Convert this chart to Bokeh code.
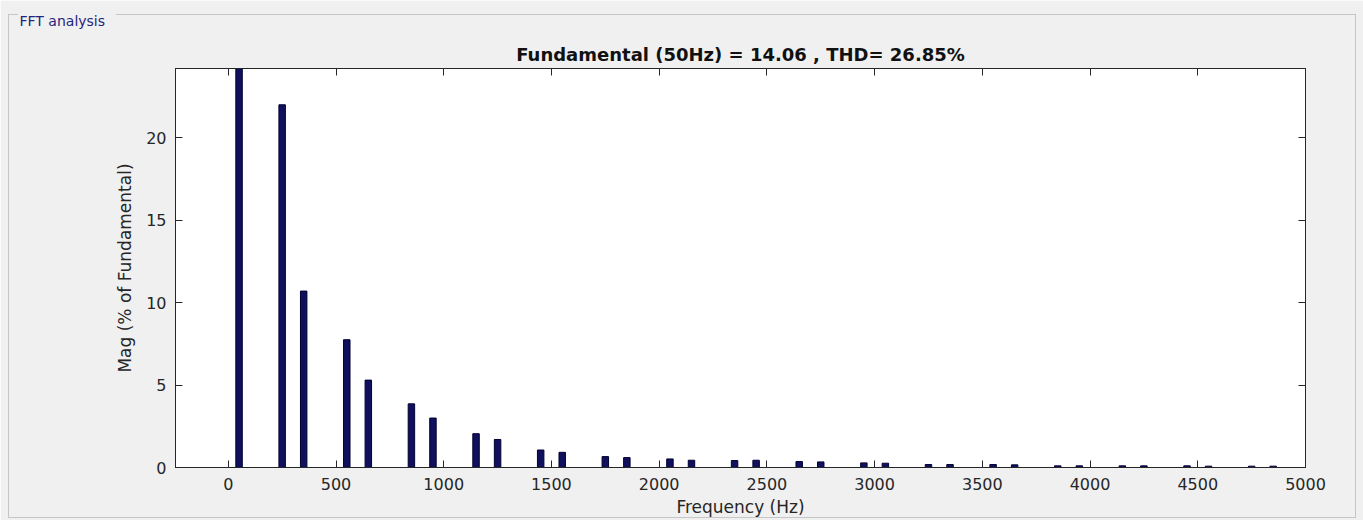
from bokeh.plotting import figure
from bokeh.models import Range1d, LinearAxis, FixedTicker, Title, InlineStyleSheet
from bokeh.embed import file_html
from bokeh.resources import INLINE

# ---- data ----
freqs = [50, 250, 350, 550, 650, 850, 950, 1150, 1250, 1450, 1550, 1750, 1850,
         2050, 2150, 2350, 2450, 2650, 2750, 2950, 3050, 3250, 3350, 3550, 3650,
         3850, 3950, 4150, 4250, 4450, 4550, 4750, 4850]
mags = [100.0, 22.0, 10.7, 7.75, 5.3, 3.86, 3.0, 2.05, 1.7, 1.06, 0.92, 0.66, 0.6,
        0.52, 0.44, 0.42, 0.44, 0.36, 0.34, 0.28, 0.26, 0.18, 0.18, 0.18, 0.16,
        0.1, 0.1, 0.1, 0.1, 0.1, 0.08, 0.08, 0.08]
x_ticks = [0, 500, 1000, 1500, 2000, 2500, 3000, 3500, 4000, 4500, 5000]
y_ticks = [0, 5, 10, 15, 20]
title_text = "Fundamental (50Hz) = 14.06 , THD= 26.85%"
x_label = "Frequency (Hz)"
y_label = "Mag (% of Fundamental)"
panel_label = "FFT analysis"

# ---- layout ----
W, H = 1363, 520
L, R, T, B = 175, 58, 68, 53
XMIN, XMAX = -245, 5000
YMIN, YMAX = 0, 24.2

AX = "#262626"
FONT = "DejaVu Sans"
PANEL = "#f0f0f0"

css = """
:host::before { content: ""; position: absolute; left: 8px; top: 14px;
  width: 1348px; height: 504px; box-sizing: border-box;
  border: 1px solid #c6c6c6; border-top: none; pointer-events: none; z-index: 10; }
:host::after { content: ""; position: absolute; left: 8px; top: 14px;
  width: 1348px; height: 1px; pointer-events: none; z-index: 10;
  background: linear-gradient(to right, #c6c6c6 10px, transparent 10px,
              transparent 108px, #c6c6c6 108px); }
"""

p = figure(width=W, height=H, output_backend="svg", toolbar_location=None,
           x_range=Range1d(XMIN, XMAX), y_range=Range1d(YMIN, YMAX),
           min_border_left=L, min_border_right=R, min_border_top=T,
           min_border_bottom=B, x_axis_type=None, y_axis_type=None,
           stylesheets=[InlineStyleSheet(css=css)])
p.background_fill_color = "white"
p.border_fill_color = PANEL
p.outline_line_color = AX
p.xgrid.visible = False
p.ygrid.visible = False

def make_axis(ticks, labels=True):
    a = LinearAxis(ticker=FixedTicker(ticks=ticks))
    a.axis_line_color = AX
    a.major_tick_line_color = AX
    a.major_tick_in = 7
    a.major_tick_out = 0
    a.minor_tick_line_color = None
    a.major_label_text_font = FONT
    a.major_label_text_color = AX
    a.major_label_text_font_size = "16px"
    a.axis_label_text_font = FONT
    a.axis_label_text_font_style = "normal"
    a.axis_label_text_color = AX
    a.axis_label_text_font_size = "17px"
    if not labels:
        a.major_label_overrides = {t: "" for t in ticks}
        a.major_label_standoff = 0
    return a

xb = make_axis(x_ticks)
xb.major_label_standoff = 10
xb.axis_label = x_label
xb.axis_label_standoff = 4
yl = make_axis(y_ticks)
yl.major_label_standoff = 9
yl.axis_label = y_label
yl.axis_label_standoff = 8
p.add_layout(xb, "below")
p.add_layout(yl, "left")
p.add_layout(make_axis(x_ticks, False), "above")
p.add_layout(make_axis(y_ticks, False), "right")

p.add_layout(Title(text=title_text, align="center", offset=-12,
                   text_font=FONT, text_font_size="18px",
                   text_font_style="bold", text_color="#111111",
                   standoff=7), "above")
p.add_layout(Title(text=panel_label, align="left", offset=-156,
                   text_font=FONT, text_font_size="14px",
                   text_font_style="normal", text_color="#24247e",
                   standoff=20), "above")

p.vbar(x=freqs, top=mags, bottom=0, width=30,
       fill_color="#10105c", line_color="#000033", line_width=1)

open("out.html", "w").write(file_html(p, INLINE))
